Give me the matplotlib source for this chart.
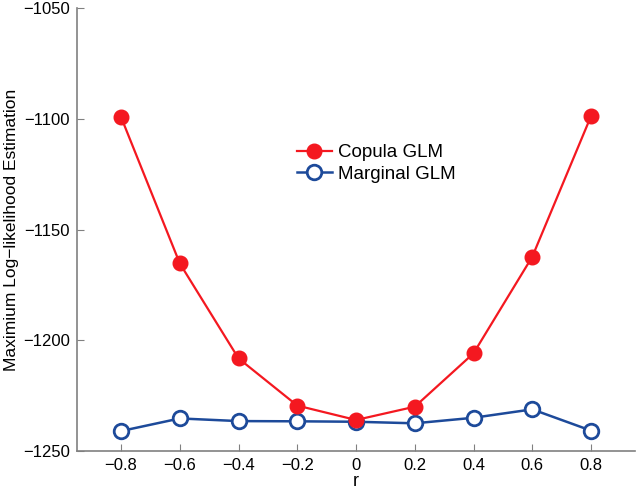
import matplotlib
matplotlib.use('Agg')
import matplotlib.pyplot as plt

plt.rcParams['font.family'] = ['Liberation Sans', 'DejaVu Sans']

# values
r = [-0.8, -0.6, -0.4, -0.2, 0.0, 0.2, 0.4, 0.6, 0.8]
copula_glm = [-1099.2, -1165.3, -1208.2, -1229.5, -1236.0, -1230.0, -1205.9, -1162.3, -1098.8]
marginal_glm = [-1241.0, -1235.3, -1236.5, -1236.6, -1236.8, -1237.5, -1235.0, -1231.2, -1240.8]
xticks = [-0.8, -0.6, -0.4, -0.2, 0, 0.2, 0.4, 0.6, 0.8]
xticklabels = ['\u22120.8', '\u22120.6', '\u22120.4', '\u22120.2', '0', '0.2', '0.4', '0.6', '0.8']
yticks = [-1250, -1200, -1150, -1100, -1050]
yticklabels = ['\u2212' + str(abs(v)) for v in yticks]

red = '#f41820'
blue = '#1d4a9a'
gray = '#808080'

fig = plt.figure(figsize=(6.4, 4.91), dpi=100)
ax = fig.add_axes([0.1203, 0.0815, 0.872, 0.902])

ax.plot(r, copula_glm, color=red, lw=1.6, marker='o', ms=10.5,
        mfc=red, mec=red, label='Copula GLM', zorder=3)
ax.plot(r, marginal_glm, color=blue, lw=1.8, marker='o', ms=10.5,
        mfc='white', mec=blue, mew=2, label='Marginal GLM', zorder=2)

ax.set_xlim(-0.95, 0.95)
ax.set_ylim(-1250, -1050)
ax.set_xticks(xticks)
ax.set_xticklabels(xticklabels)
ax.set_yticks(yticks)
ax.set_yticklabels(yticklabels)

for side in ['top', 'right']:
    ax.spines[side].set_visible(False)
for side in ['left', 'bottom']:
    ax.spines[side].set_color(gray)
    ax.spines[side].set_linewidth(1.2)
ax.tick_params(direction='in', length=5, color=gray, labelsize=12, pad=5)

ax.set_xlabel('r', fontsize=13, labelpad=0)
ax.set_ylabel('Maximium Log\u2212likelihood Estimation', fontsize=12.5)
ax.yaxis.set_label_coords(-0.104, 0.5)

ax.legend(loc='upper left', bbox_to_anchor=(0.38, 0.71), frameon=False,
          fontsize=13.5, handlelength=1.9, handletextpad=0.3, labelspacing=0.25,
          borderaxespad=0)

fig.savefig('out.png', dpi=100)
